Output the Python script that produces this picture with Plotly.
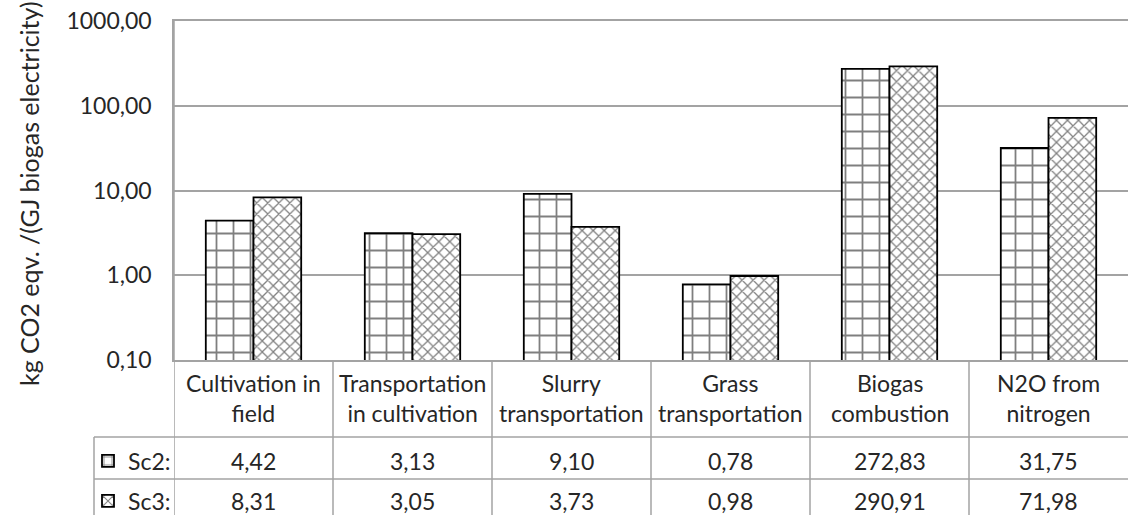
import plotly.graph_objects as go

# ---- data ----
categories = ["Cultivation in field", "Transportation in cultivation", "Slurry transportation",
              "Grass transportation", "Biogas combustion", "N2O from nitrogen"]
category_labels = ["Cultivation in<br>field", "Transportation<br>in cultivation", "Slurry<br>transportation",
                   "Grass<br>transportation", "Biogas<br>combustion", "N2O from<br>nitrogen"]
sc2_values = [4.42, 3.13, 9.10, 0.78, 272.83, 31.75]
sc3_values = [8.31, 3.05, 3.73, 0.98, 290.91, 71.98]
series_names = ["Sc2:", "Sc3:"]
y_tick_values = [0.1, 1, 10, 100, 1000]
y_title = "kg CO2 eqv. /(GJ biogas electricity)"

# ---- layout geometry (pixels) ----
W, H = 1130, 515
L, R, T, B = 174, 2, 21, 155
plot_w = W - L - R
plot_h = H - T - B
FONT = "Lato"
FS = 23
TXT = "#262626"
GRID = "#a3a3a3"


def py(pix):
    """pixel row (from top) -> paper y"""
    return (H - B - pix) / plot_h


def px(pix):
    """pixel column (from left) -> paper x"""
    return (pix - L) / plot_w


def fmt(v):
    return f"{v:.2f}".replace(".", ",")


text_font = dict(family=FONT, size=FS, color=TXT)

fig = go.Figure()
fig.add_trace(go.Bar(
    x=categories, y=sc2_values, name=series_names[0], legend="legend",
    marker=dict(color="white", line=dict(color="black", width=1.8),
                pattern=dict(shape="+", size=17, solidity=0.2, fgcolor="black", bgcolor="white")),
))
fig.add_trace(go.Bar(
    x=categories, y=sc3_values, name=series_names[1], legend="legend2",
    marker=dict(color="white", line=dict(color="black", width=1.8),
                pattern=dict(shape="x", size=7.8, solidity=0.3, fgcolor="black", bgcolor="white")),
))

# header row with category names, then one row of values per series
row_header_mid = 398
row_sc2_mid = 461
row_sc3_mid = 501
for cat, lab in zip(categories, category_labels):
    fig.add_annotation(x=cat, y=py(row_header_mid), xref="x", yref="paper", text=lab,
                       showarrow=False, yanchor="middle", font=text_font)
for cat, v in zip(categories, sc2_values):
    fig.add_annotation(x=cat, y=py(row_sc2_mid), xref="x", yref="paper", text=fmt(v),
                       showarrow=False, yanchor="middle", font=text_font)
for cat, v in zip(categories, sc3_values):
    fig.add_annotation(x=cat, y=py(row_sc3_mid), xref="x", yref="paper", text=fmt(v),
                       showarrow=False, yanchor="middle", font=text_font)

# vertical y-axis title
fig.add_annotation(x=px(29), y=py(194), xref="paper", yref="paper", text=y_title,
                   textangle=-90, showarrow=False, xanchor="center", yanchor="middle",
                   font=dict(family=FONT, size=25, color=TXT))

# table grid lines
line = dict(color=GRID, width=1.5)
bottom = py(H + 5)
for i in range(len(categories)):
    top = 1 if i == 0 else 0
    fig.add_shape(type="line", xref="x", yref="paper", x0=i - 0.5, x1=i - 0.5,
                  y0=top, y1=bottom, line=line)
for row_line in (437, 479):
    fig.add_shape(type="line", xref="paper", yref="paper", x0=px(94), x1=1,
                  y0=py(row_line), y1=py(row_line), line=line)
fig.add_shape(type="line", xref="paper", yref="paper", x0=px(94), x1=px(94),
              y0=py(437), y1=bottom, line=line)

# legend entries sit in the row headers of the table (container coordinates)
legend_common = dict(xref="container", yref="container", xanchor="left", yanchor="middle",
                     bgcolor="rgba(0,0,0,0)", font=text_font, itemwidth=30)

fig.update_layout(
    width=W, height=H,
    margin=dict(l=L, r=R, t=T, b=B, autoexpand=False),
    paper_bgcolor="white", plot_bgcolor="white",
    separators=", ",
    barmode="group", bargap=0.40, bargroupgap=0,
    showlegend=True,
    legend=dict(x=88 / W, y=1 - row_sc2_mid / H, **legend_common),
    legend2=dict(x=88 / W, y=1 - row_sc3_mid / H, **legend_common),
    xaxis=dict(showticklabels=False, showgrid=False, range=[-0.5, len(categories) - 0.5],
               showline=True, mirror=True, linecolor=GRID, linewidth=1.5, zeroline=False),
    yaxis=dict(type="log", range=[-1, 3], tickvals=y_tick_values, tickformat=".2f",
               showgrid=True, gridcolor=GRID, gridwidth=1.5,
               showline=True, linecolor=GRID, linewidth=1.5,
               ticklabelstandoff=16,
               tickfont=text_font),
    font=dict(family=FONT, color=TXT),
)

fig.write_html("out.html")
